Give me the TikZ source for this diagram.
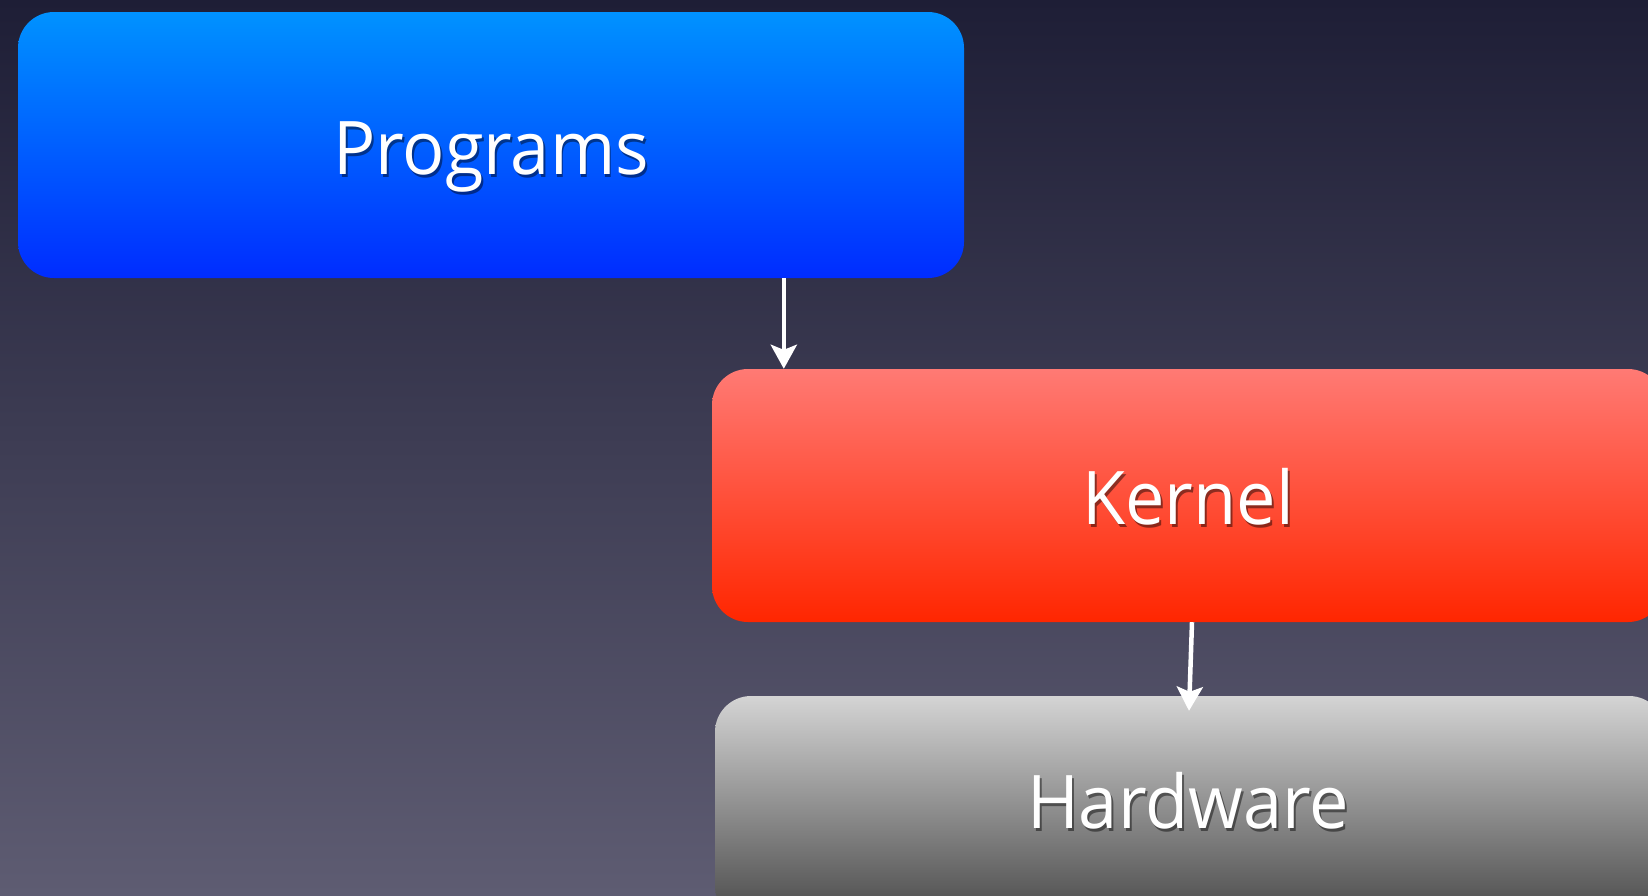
\documentclass[tikz,border=0pt]{standalone}
\usepackage{fontspec}
\setmainfont{Open Sans}
\usetikzlibrary{arrows.meta}

\definecolor{bgtop}{RGB}{30,30,54}
\definecolor{bgbot}{RGB}{94,92,114}
\definecolor{progtop}{RGB}{0,146,255}
\definecolor{progbot}{RGB}{0,44,255}
\definecolor{kerntop}{RGB}{255,122,116}
\definecolor{kernbot}{RGB}{255,38,0}
\definecolor{hardtop}{RGB}{212,212,212}
\definecolor{hardbot}{RGB}{72,72,72}

\tikzset{
  layerbox/.style={rectangle, rounded corners=36pt, inner sep=0pt, draw=none},
  layertext/.style={text=white, font=\fontsize{74}{80}\selectfont, inner sep=0pt, xscale=0.95},
  layershadow/.style={text=black, text opacity=0.45, font=\fontsize{74}{80}\selectfont, inner sep=0pt, xscale=0.95},
  flow/.style={draw=white, line width=4.5pt, -{Stealth[width=26pt,length=24pt,inset=5pt]}},
}

\newcommand{\layerlabel}[3]{%
  \node[layershadow] at ([shift={(2,3)}]#1) {#3};
  \node[layertext] (#2) at (#1) {#3};
}

\begin{document}
\begin{tikzpicture}[x=1pt,y=-1pt]
  % canvas
  \useasboundingbox (0,0) rectangle (1648,895);
  \fill[top color=bgtop, bottom color=bgbot] (0,0) rectangle (1648,895);

  % layers
  \node[layerbox, minimum width=946pt, minimum height=266pt,
        top color=progtop, bottom color=progbot] (prog) at (491,145) {};
  \node[layerbox, minimum width=952pt, minimum height=253pt,
        top color=kerntop, bottom color=kernbot] (kern) at (1188,495.5) {};
  \node[layerbox, minimum width=950pt, minimum height=226pt,
        top color=hardtop, bottom color=hardbot] (hard) at (1190,809) {};

  % labels
  \layerlabel{491,157}{progtxt}{Programs}
  \layerlabel{1188,497}{kerntxt}{Kernel}
  \layerlabel{1188,801}{hardtxt}{Hardware}

  % connectors
  \draw[flow] ([xshift=72pt]prog.south -| kern.west) -- ([xshift=72pt]kern.north west);
  \draw[flow] ([xshift=4pt]kern.south) -- ([shift={(1,15)}]hard.north -| kern.south);
\end{tikzpicture}
\end{document}
